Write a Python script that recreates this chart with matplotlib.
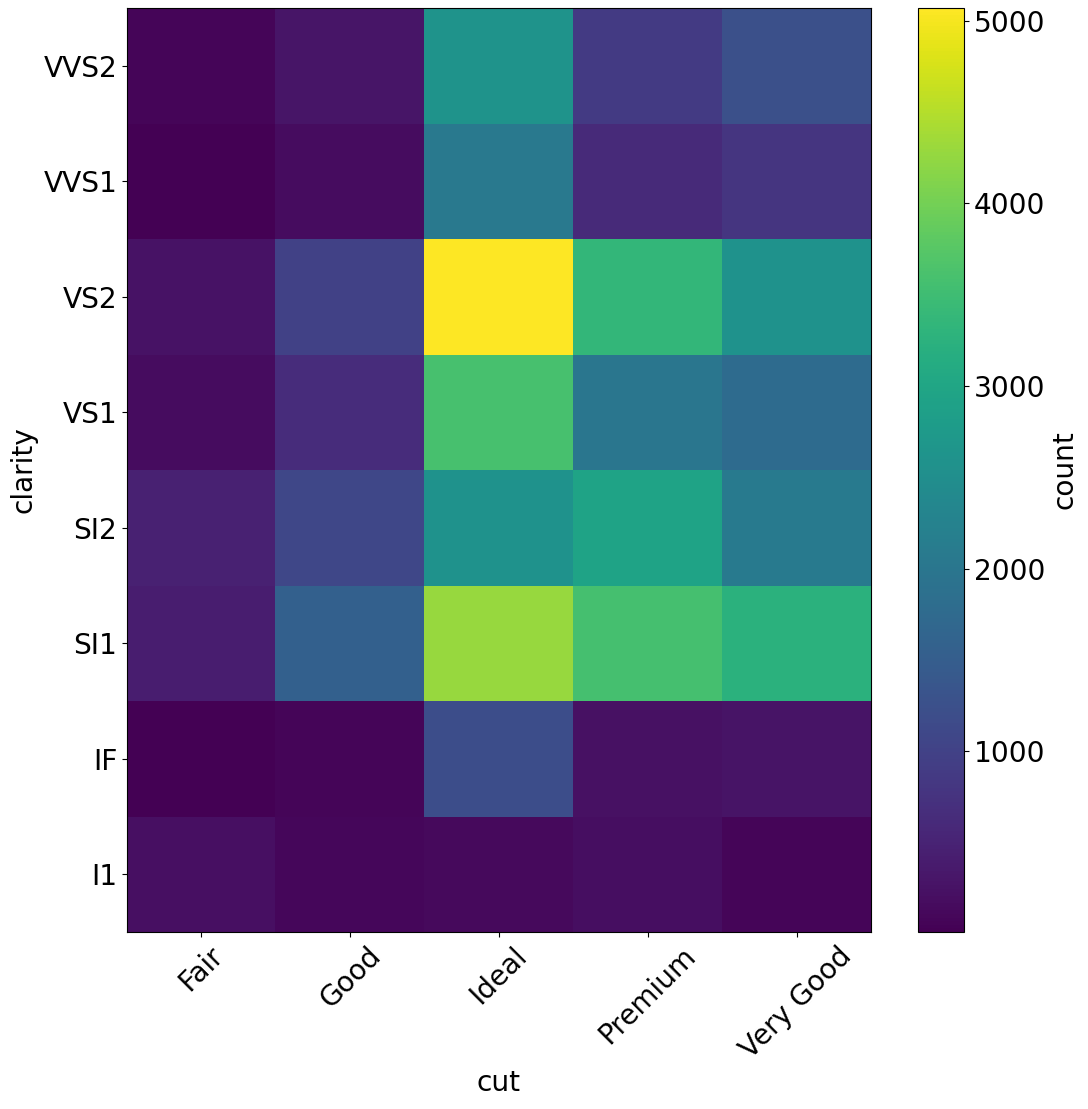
import numpy as np
import matplotlib
matplotlib.use("Agg")
import matplotlib.pyplot as plt

cuts = ["Fair", "Good", "Ideal", "Premium", "Very Good"]
clarities = ["I1", "IF", "SI1", "SI2", "VS1", "VS2", "VVS1", "VVS2"]

# counts per clarity (rows) for each cut (columns: Fair, Good, Ideal, Premium, Very Good)
i1 = [210, 96, 146, 205, 84]
if_ = [9, 71, 1212, 230, 268]
si1 = [408, 1560, 4282, 3575, 3240]
si2 = [466, 1081, 2598, 2949, 2100]
vs1 = [170, 648, 3589, 1989, 1775]
vs2 = [261, 978, 5071, 3357, 2591]
vvs1 = [17, 186, 2047, 616, 789]
vvs2 = [69, 286, 2606, 870, 1235]

data = np.array([i1, if_, si1, si2, vs1, vs2, vvs1, vvs2], dtype=float)

plt.rcParams['font.size'] = 20.2
fig = plt.figure(figsize=(10.88, 11.09), dpi=100)
ax = fig.add_axes([127/1088, 1 - 932/1109, 744/1088, 924/1109])
cax = fig.add_axes([918/1088, 1 - 932/1109, 46/1088, 924/1109])

im = ax.imshow(data, cmap="viridis", origin="lower", aspect="auto", interpolation="nearest")
ax.set_xticks(range(len(cuts)))
ax.set_xticklabels(cuts, rotation=45)
ax.set_yticks(range(len(clarities)))
ax.set_yticklabels(clarities)
ax.set_xlabel("cut")
ax.set_ylabel("clarity")

cb = fig.colorbar(im, cax=cax)
cb.set_label("count")
cb.set_ticks([1000, 2000, 3000, 4000, 5000])

fig.savefig("out.png", dpi=100)
